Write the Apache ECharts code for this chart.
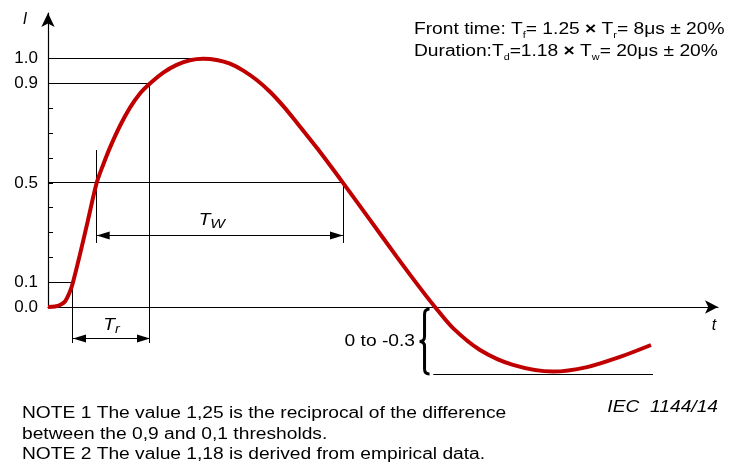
<!DOCTYPE html>
<html><head><meta charset="utf-8">
<script src="https://cdn.jsdelivr.net/npm/echarts@6/dist/echarts.min.js"></script>
<style>html,body{margin:0;padding:0;background:#fff}#c{width:729px;height:467px}</style>
</head><body><div id="c"></div>
<script>
// ---- data (time in arbitrary units, current relative to peak) ----
const curveT = [0,1.04,1.79,2.54,3.28,3.73,4.78,5.97,7.27,8.25,9.25,10.75,12.24,13.73,15.22,17.21,19.21,21.19,23.18,25.18,27.16,29.15,31.15,33.13,35.12,37.0,40.15,44.03,48.06,52.09,55.52,57.76,60.45,64.48,69.4,75.37,80.45,85.37,90.0];
const curveI = [0,0.002,0.008,0.022,0.062,0.1,0.213,0.35,0.5,0.574,0.642,0.73,0.803,0.86,0.9,0.944,0.975,0.994,1.0,0.995,0.98,0.952,0.914,0.867,0.809,0.747,0.64,0.5,0.351,0.201,0.077,0,-0.085,-0.173,-0.233,-0.26,-0.242,-0.201,-0.153];
const yTickValues = [0,0.1,0.2,0.3,0.4,0.5,0.6,0.7,0.8,0.9,1.0];
const yLabelValues = [0,0.1,0.5,0.9,1.0];
const levels = [0.1,0.5,0.9,1.0];            // threshold levels
const levelTimes = [3.73,7.27,15.22,22.7];   // where each level line ends (rising side)
const fall50Time = 44.03;                    // 0.5 on the falling side
const undershoot = [-0.27, 57.5, 90.3];      // level, start, end of the undershoot bound
const braceSpan = [56.2, -0.008, -0.27];     // t, top, bottom of the "0 to -0.3" brace

const FONT = '"Liberation Sans", Arial, Helvetica, sans-serif';
const SX = 1.2;
const [t10, t50, t90, t100] = levelTimes;
const [l10, l50, l90, l100] = levels;

// annotation segments: x1, y1, x2, y2, arrows(0/1)
const segments = [
  [0, l100, t100, l100, 0],
  [0, l90, t90, l90, 0],
  [0, l50, fall50Time, l50, 0],
  [0, l10, t10, l10, 0],
  [t10, l10, t10, -0.145, 0],
  [t90, l90, t90, -0.145, 0],
  [t50, 0.632, t50, 0.258, 0],
  [fall50Time, l50, fall50Time, 0.258, 0],
  [t10, -0.125, t90, -0.125, 1],
  [t50, 0.286, fall50Time, 0.286, 1],
  [undershoot[1], undershoot[0], undershoot[2], undershoot[0], 0]
];

const curve = curveT.map((t, i) => [t, curveI[i]]);
const crisp = v => Math.floor(v) + 0.5;

function arrowHead(tip, from, len, hw) {
  const dx = tip[0] - from[0], dy = tip[1] - from[1];
  const d = Math.hypot(dx, dy) || 1;
  const ux = dx / d, uy = dy / d;
  const bx = tip[0] - ux * len, by = tip[1] - uy * len;
  return {type: 'polygon', shape: {points: [[tip[0], tip[1]], [bx - uy * hw, by + ux * hw], [bx + uy * hw, by - ux * hw]]},
          style: {fill: '#000'}};
}

const chart = echarts.init(document.getElementById('c'));
const option = {
  animation: false,
  grid: {left: 48, right: 11, top: 13, bottom: 160},
  xAxis: {type: 'value', min: 0, max: 100,
    axisLine: {onZero: true, symbol: ['none', 'arrow'], symbolSize: [10, 13], lineStyle: {color: '#000', width: 1.2}},
    axisTick: {show: false}, axisLabel: {show: false}, splitLine: {show: false}},
  yAxis: {type: 'value', min: 0, max: 1.184, interval: 0.1,
    axisLine: {show: true, symbol: ['none', 'arrow'], symbolSize: [10, 14], lineStyle: {color: '#000', width: 1.2}},
    axisTick: {show: true, inside: true, length: 5, customValues: yTickValues, lineStyle: {color: '#000'}},
    axisLabel: {customValues: yLabelValues, margin: 10, color: '#000', fontSize: 17, fontFamily: FONT,
      formatter: v => yLabelValues.some(l => Math.abs(l - v) < 1e-6) ? v.toFixed(1) : ''},
    splitLine: {show: false}},
  series: [
    {type: 'custom', coordinateSystem: 'cartesian2d', data: segments, clip: false, silent: true, z: 2,
      renderItem(params, api) {
        let a = api.coord([api.value(0), api.value(1)]);
        let b = api.coord([api.value(2), api.value(3)]);
        if (Math.abs(a[1] - b[1]) < 0.01) { a[1] = b[1] = crisp(a[1]); }
        if (Math.abs(a[0] - b[0]) < 0.01) { a[0] = b[0] = crisp(a[0]); }
        const ch = [{type: 'line', shape: {x1: a[0], y1: a[1], x2: b[0], y2: b[1]}, style: {stroke: '#000', lineWidth: 1}}];
        if (api.value(4)) { ch.push(arrowHead(a, b, 13, 4)); ch.push(arrowHead(b, a, 13, 4)); }
        return {type: 'group', children: ch};
      }},
    {type: 'custom', coordinateSystem: 'cartesian2d', data: [braceSpan], clip: false, silent: true, z: 2,
      renderItem(params, api) {
        const top = api.coord([api.value(0), api.value(1)]);
        const bot = api.coord([api.value(0), api.value(2)]);
        const x = top[0], y0 = top[1], y1 = bot[1], ym = (y0 + y1) / 2;
        const p = `M${x+5} ${y0} Q${x} ${y0} ${x} ${y0+5} L${x} ${ym-5} Q${x} ${ym} ${x-5} ${ym} Q${x} ${ym} ${x} ${ym+5} L${x} ${y1-5} Q${x} ${y1} ${x+5} ${y1}`;
        return {type: 'group', children: [
          {type: 'path', shape: {pathData: p}, style: {stroke: '#000', fill: null, lineWidth: 3}},
          {type: 'text', x: x - 9.5, y: ym, scaleX: SX, style: {text: '0 to -0.3', fill: '#000', font: '16px ' + FONT, align: 'right', verticalAlign: 'middle'}}
        ]};
      }},
    {type: 'custom', coordinateSystem: 'cartesian2d', clip: false, silent: true, z: 4,
      data: [[(t10 + t90) / 2, -0.125, 0], [(t50 + fall50Time) / 2, 0.286, 1]],
      renderItem(params, api) {
        const p = api.coord([api.value(0), api.value(1)]);
        const isW = api.value(2) === 1;
        return {type: 'text', x: p[0] + (isW ? -8 : 0), y: p[1] - (isW ? 15 : 12), scaleX: SX,
          style: {text: isW ? '{a|T}{b|W}' : '{a|T}{c|r}', align: 'center', verticalAlign: 'middle', fill: '#000',
            rich: {a: {fontSize: 16, fontStyle: 'italic', fontFamily: FONT, lineHeight: 20},
                   b: {fontSize: 13, fontStyle: 'italic', fontFamily: FONT, lineHeight: 10, verticalAlign: 'bottom'},
                   c: {fontSize: 12, fontStyle: 'italic', fontFamily: FONT, lineHeight: 14, verticalAlign: 'bottom'}}}};
      }},
    {type: 'line', data: curve, smooth: 0.3, showSymbol: false, clip: false, silent: true, z: 3,
      lineStyle: {color: '#c00000', width: 4}}
  ],
  graphic: [
    {type: 'text', x: 25, y: 20, style: {text: 'I', font: 'italic 16px ' + FONT, fill: '#000', align: 'center', verticalAlign: 'middle'}},
    {type: 'text', x: 714, y: 326, style: {text: 't', font: 'italic 16px ' + FONT, fill: '#000', align: 'center', verticalAlign: 'middle'}},
    {type: 'text', x: 414, y: 30, scaleX: SX, style: {text: 'Front time: T{s|f}= 1.25 {x|×} T{s|r}= 8μs ± 20%', fill: '#000', align: 'left', verticalAlign: 'middle',
      rich: {s: {fontSize: 9, fontFamily: FONT, lineHeight: 10, verticalAlign: 'bottom'}, x: {fontSize: 16, fontWeight: 'bold', fontFamily: FONT, lineHeight: 20}},
      fontSize: 16, fontFamily: FONT, lineHeight: 20}},
    {type: 'text', x: 414, y: 52, scaleX: SX, style: {text: 'Duration:T{s|d}=1.18 {x|×} T{s|w}= 20μs ± 20%', fill: '#000', align: 'left', verticalAlign: 'middle',
      rich: {s: {fontSize: 9, fontFamily: FONT, lineHeight: 10, verticalAlign: 'bottom'}, x: {fontSize: 16, fontWeight: 'bold', fontFamily: FONT, lineHeight: 20}},
      fontSize: 16, fontFamily: FONT, lineHeight: 20}},
    {type: 'text', x: 718, y: 408, scaleX: SX, style: {text: 'IEC  1144/14', font: 'italic 16px ' + FONT, fill: '#000', align: 'right', verticalAlign: 'middle'}},
    {type: 'text', x: 22, y: 414, scaleX: SX, style: {text: 'NOTE 1 The value 1,25 is the reciprocal of the difference', font: '16px ' + FONT, fill: '#000', align: 'left', verticalAlign: 'middle'}},
    {type: 'text', x: 22, y: 435, scaleX: SX, style: {text: 'between the 0,9 and 0,1 thresholds.', font: '16px ' + FONT, fill: '#000', align: 'left', verticalAlign: 'middle'}},
    {type: 'text', x: 22, y: 455, scaleX: SX, style: {text: 'NOTE 2 The value 1,18 is derived from empirical data.', font: '16px ' + FONT, fill: '#000', align: 'left', verticalAlign: 'middle'}}
  ]
};
chart.setOption(option);
</script></body></html>
